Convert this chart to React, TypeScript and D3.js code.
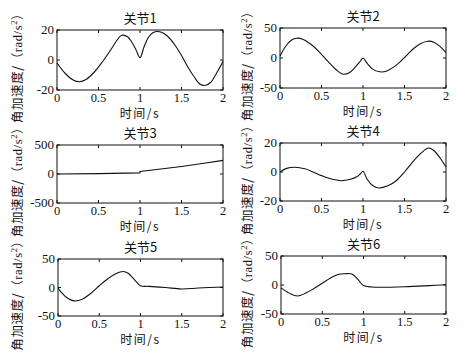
import React from "react";
import * as d3 from "d3";

const titles = ["关节1", "关节2", "关节3", "关节4", "关节5", "关节6"];
const xTicks = [0, 0.5, 1, 1.5, 2];
const xTickLabels = ["0", "0.5", "1", "1.5", "2"];
const yDomains: [number, number][] = [[-20, 20], [-50, 50], [-500, 500], [-20, 20], [-50, 50], [-50, 50]];
const yTicks = [[-20, 0, 20], [-50, 0, 50], [-500, 0, 500], [-20, 0, 20], [-50, 0, 50], [-50, 0, 50]];

const j1t = [0, 0.1, 0.2, 0.27, 0.35, 0.45, 0.55, 0.65, 0.72, 0.78, 0.85, 0.9, 0.95, 1.0, 1.05, 1.1, 1.15, 1.2, 1.26, 1.33, 1.42, 1.5, 1.58, 1.65, 1.72, 1.78, 1.85, 1.92, 2.0];
const j1v = [-2, -9, -13.5, -14.5, -13, -8, -1, 7, 13, 16.5, 15.5, 12, 7, 1.5, 9, 15, 18, 19, 18.5, 16, 10, 3, -5, -11, -16, -17, -15, -9, -1];

const j2t = [0, 0.07, 0.14, 0.2, 0.28, 0.38, 0.48, 0.58, 0.68, 0.76, 0.84, 0.92, 0.97, 1.0, 1.05, 1.12, 1.2, 1.28, 1.38, 1.48, 1.58, 1.68, 1.78, 1.86, 1.93, 2.0];
const j2v = [3, 20, 30, 33, 31, 22, 9, -6, -20, -27, -24, -13, -5, 0, -9, -19, -23, -22, -14, -2, 12, 23, 28, 26, 19, 9];

const j3t = [0, 0.5, 0.999, 1.0, 1.25, 1.5, 1.75, 2.0];
const j3v = [0, 6, 20, 45, 85, 130, 180, 235];

const j4t = [0, 0.08, 0.18, 0.3, 0.4, 0.5, 0.6, 0.74, 0.85, 0.92, 0.97, 1.0, 1.05, 1.12, 1.19, 1.3, 1.4, 1.5, 1.6, 1.7, 1.79, 1.86, 1.93, 2.0];
const j4v = [0, 2.5, 3.3, 2.2, 0, -2.5, -4.5, -6, -5, -3.5, -1.2, 0.5, -5, -9.5, -11, -9.5, -6, 0, 7, 13, 16.5, 14.5, 9.5, 3.5];

const j5t = [0, 0.05, 0.1, 0.2, 0.3, 0.4, 0.5, 0.6, 0.7, 0.79, 0.85, 0.9, 0.95, 1.0, 1.1, 1.3, 1.5, 1.7, 2.0];
const j5v = [-1, -10, -17, -23.5, -20, -10, 3, 15, 24, 28, 25, 18, 10, 3, 2, 0, -2.5, -1, 1];

const j6t = [0, 0.1, 0.2, 0.3, 0.4, 0.5, 0.6, 0.7, 0.78, 0.86, 0.93, 1.0, 1.1, 1.2, 1.5, 1.8, 2.0];
const j6v = [-5, -14, -19, -14, -6, 3, 12, 18.5, 19.5, 19, 10, -1, -3.5, -4, -3, -1, 0.5];

const seriesT = [j1t, j2t, j3t, j4t, j5t, j6t];
const seriesV = [j1v, j2v, j3v, j4v, j5v, j6v];

const boxes = [
  { x0: 57, x1: 223, y0: 30, y1: 90, lx: 22 },
  { x0: 280, x1: 446, y0: 28, y1: 88, lx: 252 },
  { x0: 57, x1: 223, y0: 145, y1: 203, lx: 22 },
  { x0: 280, x1: 446, y0: 143, y1: 201, lx: 252 },
  { x0: 58, x1: 223, y0: 259, y1: 316, lx: 22 },
  { x0: 281, x1: 446, y0: 256, y1: 314, lx: 252 },
];

const serif = "'Liberation Serif', 'Times New Roman', serif";
const cjk = "'Noto Sans CJK SC', sans-serif";

function Panel({ i }: { i: number }) {
  const b = boxes[i];
  const x = d3.scaleLinear().domain([0, 2]).range([b.x0, b.x1]);
  const y = d3.scaleLinear().domain(yDomains[i]).range([b.y1, b.y0]);
  const pts = seriesT[i].map((t, k) => [t, seriesV[i][k]] as [number, number]);
  let path: string;
  if (i === 2) {
    path = d3.line<[number, number]>().x((d) => x(d[0])).y((d) => y(d[1]))(pts) || "";
  } else {
    path = d3.line<[number, number]>().x((d) => x(d[0])).y((d) => y(d[1])).curve(d3.curveCatmullRom.alpha(0.5))(pts) || "";
  }
  const cx = (b.x0 + b.x1) / 2;
  const cy = (b.y0 + b.y1) / 2;
  const tl = 3;
  return (
    <g>
      <text x={cx} y={b.y0 - 7} textAnchor="middle" fontFamily={cjk} fontSize={13} fill="#111">{titles[i]}</text>
      <rect x={b.x0} y={b.y0} width={b.x1 - b.x0} height={b.y1 - b.y0} fill="none" stroke="#111" strokeWidth={1} />
      {xTicks.map((t, k) => (
        <g key={"x" + k}>
          <line x1={x(t)} x2={x(t)} y1={b.y1} y2={b.y1 - tl} stroke="#111" />
          <line x1={x(t)} x2={x(t)} y1={b.y0} y2={b.y0 + tl} stroke="#111" />
          <text x={x(t)} y={b.y1 + 12} textAnchor="middle" fontFamily={serif} fontSize={12.5} fill="#111">{xTickLabels[k]}</text>
        </g>
      ))}
      {yTicks[i].map((v, k) => (
        <g key={"y" + k}>
          <line x1={b.x0} x2={b.x0 + tl} y1={y(v)} y2={y(v)} stroke="#111" />
          <line x1={b.x1} x2={b.x1 - tl} y1={y(v)} y2={y(v)} stroke="#111" />
          <text x={b.x0 - 3} y={y(v) + 4} textAnchor="end" fontFamily={serif} fontSize={13} fill="#111">{String(v)}</text>
        </g>
      ))}
      <path d={path} fill="none" stroke="#111" strokeWidth={1.1} />
      <text x={cx} y={b.y1 + 28} textAnchor="middle" fontFamily={cjk} fontSize={12} letterSpacing={1.5} fill="#111">时间/s</text>
      <text transform={`translate(${b.lx},${cy + 5}) rotate(-90)`} textAnchor="middle" fontSize={12.5} fill="#111" letterSpacing={0.6}>
        <tspan fontFamily={cjk}>角加速度/（</tspan>
        <tspan fontFamily={serif}>rad/s</tspan>
        <tspan fontFamily={serif} fontSize={8.5} dy={-5}>2</tspan>
        <tspan fontFamily={cjk} dy={5}>）</tspan>
      </text>
    </g>
  );
}

export default function App() {
  return (
    <svg width={470} height={358} style={{ position: "absolute", left: 0, top: 0, background: "#fff" }}>
      <rect width={470} height={358} fill="#fff" />
      {[0, 1, 2, 3, 4, 5].map((i) => (
        <Panel key={i} i={i} />
      ))}
    </svg>
  );
}
